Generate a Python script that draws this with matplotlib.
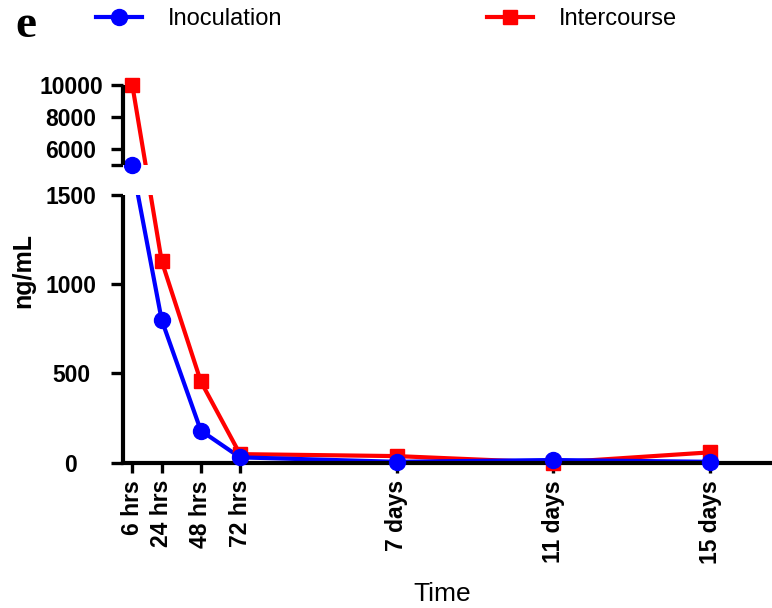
import numpy as np
import matplotlib
matplotlib.use("Agg")
import matplotlib.pyplot as plt

plt.rcParams['font.family'] = ['Liberation Sans', 'DejaVu Sans']

# time points (hours) and their labels
hours = [6, 24, 48, 72, 168, 264, 360]
time_labels = ["6 hrs", "24 hrs", "48 hrs", "72 hrs", "7 days", "11 days", "15 days"]

# ng/mL
inoculation = [5000, 800, 180, 30, 5, 15, 5]
intercourse = [10000, 1130, 455, 48, 37, 0, 58]

y_ticks = [0, 500, 1000, 1500, 5000, 6000, 8000, 10000]
y_ticklabels = ["0", "500", "1000", "1500", "", "6000", "8000", "10000"]

# broken axis: lower part 0-1500, upper part 5000-10000
low_seg = (0, 1500)
high_seg = (5000, 10000)
# pixel heights of the pieces (lower, gap, upper)
h_low, h_gap, h_high = 267.7, 30.0, 80.0

k_low = h_low / (low_seg[1] - low_seg[0])
k_high = h_high / (high_seg[1] - high_seg[0])
yp = np.array([-1e5, low_seg[0], low_seg[1], high_seg[0], high_seg[1], 1e6])
pp = np.array([-1e5 * k_low, 0, h_low, h_low + h_gap, h_low + h_gap + h_high,
               h_low + h_gap + h_high + (1e6 - high_seg[1]) * k_high])


def fwd(y):
    return np.interp(y, yp, pp)


def inv(p):
    return np.interp(p, pp, yp)


W, H = 772, 608
fig = plt.figure(figsize=(W / 100, H / 100), dpi=100)
ax_left, ax_bottom = 122.5, 145.3
ax = fig.add_axes([ax_left / W, ax_bottom / H, (W - ax_left) / W, (h_low + h_gap + h_high) / H])
ax.set_yscale('function', functions=(fwd, inv))

lw = 3
ax.plot(hours, intercourse, '-', color='#ff0000', lw=lw, zorder=2, clip_on=False)
ax.plot(hours, inoculation, '-', color='#0000ff', lw=lw, zorder=2.1, clip_on=False)
# hide the lines inside the break
ax.axhspan(low_seg[1], high_seg[0], color='white', zorder=2.5, lw=0)
ax.plot(hours, intercourse, 's', color='#ff0000', ms=10.5, zorder=3, clip_on=False)
ax.plot(hours, inoculation, 'o', color='#0000ff', ms=11.5, zorder=3.1, clip_on=False)

ax.set_xlim(0, (W - ax_left) / 1.632)
ax.set_ylim(0, 10000)

for s in ['top', 'right', 'left']:
    ax.spines[s].set_visible(False)
ax.spines['bottom'].set_linewidth(lw)
for seg in (low_seg, high_seg):
    ax.plot([0, 0], seg, color='black', lw=lw, transform=ax.get_yaxis_transform(),
            clip_on=False, solid_capstyle='butt', zorder=4)

ax.set_yticks(y_ticks)
ax.set_yticklabels(y_ticklabels)
ax.yaxis.set_minor_locator(matplotlib.ticker.NullLocator())
ax.tick_params(axis='y', direction='out', length=8.6, width=2.4, pad=28.5,
               labelsize=16.5)
for t in ax.get_yticklabels():
    t.set_ha('center')
    t.set_fontweight('bold')

ax.set_xticks(hours)
ax.set_xticklabels(time_labels, rotation=90, fontweight='bold')
ax.tick_params(axis='x', direction='out', length=7.5, width=2.4, pad=5,
               labelsize=16.5)

fig.text(23 / W, 1 - 270 / H, "ng/mL", rotation=90, ha='center', va='center',
         fontsize=18, fontweight='bold')
fig.text(442 / W, 1 - 601 / H, "Time", ha='center', va='baseline', fontsize=19)
fig.text(15 / W, 1 - 37 / H, "e", ha='left', va='baseline', fontsize=34,
         fontweight='bold', family='Liberation Serif')

# legend, two entries placed separately
h1, = ax.plot([], [], '-o', color='#0000ff', lw=lw, ms=11.5)
h2, = ax.plot([], [], '-s', color='#ff0000', lw=lw, ms=10.5)
for h, lab, x0 in [(h1, "Inoculation", 96), (h2, "Intercourse", 487)]:
    fig.legend([h], [lab], loc='center left', bbox_to_anchor=(x0 / W, 1 - 19 / H),
               frameon=False, borderpad=0, borderaxespad=0, handlelength=1.95,
               handletextpad=1.1, fontsize=17)

fig.savefig("out.png", dpi=100)
